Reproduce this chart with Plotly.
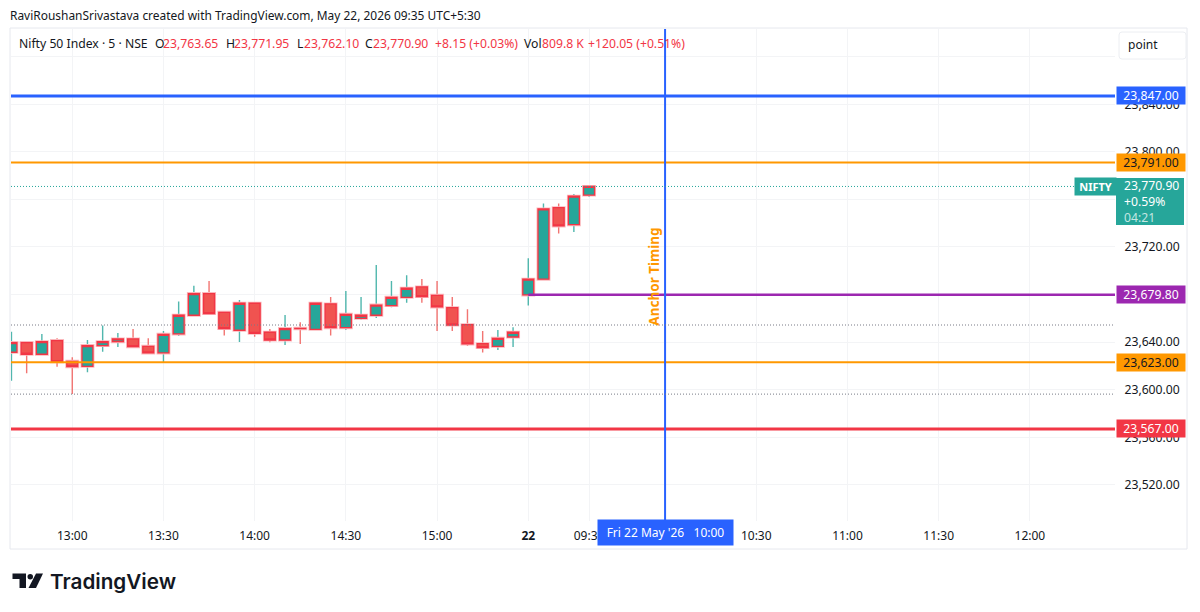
import plotly.graph_objects as go

W, H = 1200, 612
FONT = "Noto Sans"
TEXT = "#131722"
UP = "#26a69a"
DOWN = "#f05350"
BORDER = "#f23645"
HALO = "#fbb9bd"
BLUE = "#2962ff"
ORANGE = "#ff9800"
PURPLE = "#9c27b0"
GRID = "#f3f4f6"
FRAME = "#e6e8ee"

# 5 minute bars, counted from the 13:00 bar of the 21st
bar_index = list(range(-4, 35))
open_ = [23631.5, 23639.6, 23629.8, 23641.3, 23623.9, 23619.7, 23637.1, 23640.4, 23642.7, 23636.5,
         23630.9, 23646.9, 23662.6, 23680.8, 23665.1, 23650.0, 23672.7, 23648.3, 23641.8, 23651.6,
         23650.8, 23672.1, 23652.2, 23660.0, 23662.6, 23670.7, 23677.7, 23686.4, 23679.4, 23669.0,
         23654.7, 23638.7, 23636.5, 23644.3, 23679.7, 23692.9, 23753.1, 23738.8, 23763.65]
high = [23648.8, 23641.0, 23646.9, 23643.2, 23627.3, 23641.8, 23653.9, 23647.7, 23651.1, 23643.2,
        23649.4, 23674.1, 23687.5, 23691.4, 23666.2, 23675.5, 23673.8, 23651.1, 23662.9, 23656.7,
        23673.2, 23678.0, 23683.0, 23678.0, 23704.9, 23691.4, 23696.2, 23693.1, 23691.4, 23678.0,
        23667.6, 23649.4, 23650.2, 23652.5, 23710.5, 23756.5, 23756.5, 23764.6, 23771.95]
low = [23607.6, 23613.8, 23629.8, 23619.4, 23596.4, 23614.6, 23632.0, 23635.9, 23635.4, 23630.6,
       23622.8, 23645.2, 23662.6, 23664.0, 23645.5, 23640.1, 23644.6, 23639.9, 23637.6, 23638.5,
       23650.8, 23645.5, 23650.2, 23658.9, 23660.3, 23669.3, 23673.2, 23673.2, 23649.4, 23649.4,
       23636.8, 23631.2, 23633.4, 23635.9, 23670.7, 23692.9, 23731.3, 23732.7, 23762.10]
close = [23639.6, 23629.8, 23640.4, 23623.6, 23619.4, 23637.1, 23640.4, 23642.7, 23636.2, 23630.9,
         23646.6, 23662.6, 23680.8, 23664.0, 23651.4, 23672.7, 23647.4, 23641.8, 23651.4, 23651.3,
         23672.7, 23652.2, 23663.4, 23662.6, 23671.2, 23677.7, 23685.3, 23678.3, 23669.6, 23654.4,
         23638.5, 23635.4, 23643.2, 23648.3, 23692.9, 23752.0, 23737.7, 23762.7, 23770.90]

tick_bars = [0, 6, 12, 18, 24, 30, 34, 45, 51, 57, 63, 39]
tick_labels = ["13:00", "13:30", "14:00", "14:30", "15:00", "<b>22</b>", "09:35", "10:30", "11:00", "11:30", "12:00", "10:00"]

price_ticks = [23520, 23560, 23600, 23640, 23680, 23720, 23760, 23800, 23840, 23880]
price_labels = ["23,520.00", "23,560.00", "23,600.00", "23,640.00", "23,680.00", "23,720.00", "23,760.00",
                "23,800.00", "23,840.00", ""]

level_prices = [23847.00, 23791.00, 23623.00, 23567.00]
level_colors = [BLUE, ORANGE, ORANGE, "#f23645"]
level_widths = [3, 2, 2, 3]
level_text = ["#ffffff", TEXT, TEXT, "#ffffff"]

anchor_price = 23679.80
anchor_bar = 30
last_price = 23770.90
session_dots = [23654.4, 23596.3]
timing_bar = 39


def px(x):
    return x / W


def py(y):
    return 1 - y / H


def body_only(o, c):
    return [max(a, b) for a, b in zip(o, c)], [min(a, b) for a, b in zip(o, c)]


fig = go.Figure()

# wicks in the body colour
fig.add_trace(go.Candlestick(
    x=bar_index, open=open_, high=high, low=low, close=close,
    increasing=dict(line=dict(color=UP, width=1.4), fillcolor=UP),
    decreasing=dict(line=dict(color=DOWN, width=1.4), fillcolor=DOWN),
    opacity=0.8, hoverinfo="skip", showlegend=False,
))
# bodies again on top, pale halo then red outline on both directions
body_high, body_low = body_only(open_, close)
for edge, edge_width in [(HALO, 3), (BORDER, 1.3)]:
    fig.add_trace(go.Candlestick(
        x=bar_index, open=open_, high=body_high, low=body_low, close=close,
        increasing=dict(line=dict(color=edge, width=edge_width), fillcolor=UP),
        decreasing=dict(line=dict(color=edge, width=edge_width), fillcolor=DOWN),
        hoverinfo="skip", showlegend=False,
    ))

# price levels
for price, color, width in zip(level_prices, level_colors, level_widths):
    fig.add_shape(type="line", xref="paper", yref="y", x0=px(11), x1=px(1115), y0=price, y1=price,
                  line=dict(color=color, width=width))
fig.add_shape(type="line", xref="x", yref="y", x0=anchor_bar, x1=68.6, y0=anchor_price, y1=anchor_price,
              line=dict(color=PURPLE, width=2.5))
fig.add_shape(type="line", xref="x", yref="paper", x0=timing_bar, x1=timing_bar, y0=py(521), y1=py(29),
              line=dict(color=BLUE, width=2))
fig.add_shape(type="line", xref="paper", yref="y", x0=px(11), x1=px(1074), y0=last_price, y1=last_price,
              line=dict(color=UP, width=1, dash="1px 2px"))
for price in session_dots:
    fig.add_shape(type="line", xref="paper", yref="y", x0=px(11), x1=px(1114), y0=price, y1=price,
                  line=dict(color="#787b86", width=1, dash="1px 2px"))

# frame round the chart
fig.add_shape(type="rect", xref="paper", yref="paper", x0=px(10), x1=px(1187), y0=py(549), y1=py(28),
              line=dict(color=FRAME, width=1))

# point box
fig.add_shape(type="path", xref="paper", yref="paper",
              path=f"M {px(1122)} {py(32)} L {px(1183)} {py(32)} Q {px(1186)} {py(32)} {px(1186)} {py(35)} "
                   f"L {px(1186)} {py(56)} Q {px(1186)} {py(59)} {px(1183)} {py(59)} L {px(1122)} {py(59)} "
                   f"Q {px(1119)} {py(59)} {px(1119)} {py(56)} L {px(1119)} {py(35)} Q {px(1119)} {py(32)} {px(1122)} {py(32)} Z",
              line=dict(color="#eceef2", width=1), fillcolor="#ffffff")

# last price tag box
fig.add_shape(type="rect", xref="paper", yref="paper", x0=px(1116), x1=px(1184), y0=py(225), y1=py(178),
              line_width=0, fillcolor=UP)

# logo mark
fig.add_shape(type="path", xref="paper", yref="paper", fillcolor="#131722", line_width=0,
              path=f"M {px(12.5)} {py(573.5)} L {px(26)} {py(573.5)} L {px(26)} {py(588)} L {px(19.5)} {py(588)} "
                   f"L {px(19.5)} {py(579)} L {px(12.5)} {py(579)} Z")
fig.add_shape(type="circle", xref="paper", yref="paper", fillcolor="#131722", line_width=0,
              x0=px(27.5), x1=px(33), y0=py(579.5), y1=py(574))
fig.add_shape(type="path", xref="paper", yref="paper", fillcolor="#131722", line_width=0,
              path=f"M {px(36)} {py(573.5)} L {px(43)} {py(573.5)} L {px(36)} {py(588)} L {px(28.5)} {py(588)} Z")


def note(text, x, y, color=TEXT, size=12, **kw):
    fig.add_annotation(text=text, x=px(x), y=py(y), xref="paper", yref="paper", showarrow=False,
                       xanchor=kw.pop("xanchor", "left"), yanchor=kw.pop("yanchor", "middle"),
                       font=dict(family=kw.pop("family", FONT), size=size, color=color, **kw.pop("font", {})),
                       **kw)


note("RaviRoushanSrivastava created with TradingView.com, May 22, 2026 09:35 UTC+5:30", 8, 15, size=11.95)
note("TradingView", 48, 581, size=20.7, family="Inter", font=dict(weight=600))
note("point", 1126, 45, size=12)

# legend row
legend_text = ["Nifty 50 Index · 5 · NSE", "O", "23,763.65", "H", "23,771.95", "L", "23,762.10", "C", "23,770.90",
               "+8.15 (+0.03%)", "Vol", "809.8 K", "+120.05 (+0.51%)"]
legend_x = [17, 153, 161, 224, 232, 295, 302, 363, 371, 433, 522, 540, 586]
legend_red = [False, False, True, False, True, False, True, False, True, True, False, True, True]
for text, x, red in zip(legend_text, legend_x, legend_red):
    note(text, x, 44, color=BORDER if red else TEXT, size=12.2)

# price tags on the scale
for price, color, ink in zip(level_prices, level_colors, level_text):
    fig.add_annotation(text=f"{price:,.2f}", xref="paper", yref="y", x=px(1116), y=price, xanchor="left",
                       showarrow=False, bgcolor=color, width=68, height=17, borderpad=0,
                       font=dict(family=FONT, size=12.2, color=ink))
fig.add_annotation(text=f"{anchor_price:,.2f}", xref="paper", yref="y", x=px(1116), y=anchor_price, xanchor="left",
                   showarrow=False, bgcolor=PURPLE, width=68, height=17, borderpad=0,
                   font=dict(family=FONT, size=12.2, color="#ffffff"))
note(f"{last_price:,.2f}<br>+0.59%<br><span style='color:#c4e6e2'>04:21</span>", 1122, 202,
     color="#ffffff", size=12.2, align="left")
fig.add_annotation(text="<b>NIFTY</b>", xref="paper", yref="y", x=px(1074), y=last_price, xanchor="left",
                   showarrow=False, bgcolor=UP, width=41, height=17, borderpad=0,
                   font=dict(family=FONT, size=11, color="#ffffff"))

fig.add_annotation(text="<b>Anchor Timing</b>", xref="x", yref="y", x=38.25, y=23694.8, textangle=-90,
                   showarrow=False, font=dict(family=FONT, size=13.5, color=ORANGE))
fig.add_annotation(text="Fri 22 May '26 &nbsp; 10:00", xref="x", yref="paper", x=timing_bar, y=py(532.5),
                   yanchor="middle", showarrow=False, bgcolor=BLUE, width=135, height=25, borderpad=0,
                   font=dict(family=FONT, size=12, color="#ffffff"))

fig.update_layout(
    width=W, height=H, autosize=False,
    margin=dict(l=0, r=0, t=0, b=0, pad=0),
    paper_bgcolor="#ffffff", plot_bgcolor="#ffffff",
    showlegend=False, boxmode="overlay", boxgap=0.28, boxgroupgap=0,
    xaxis=dict(domain=[px(11), px(1115)], range=[-4.03, 68.6], rangeslider=dict(visible=False),
               tickmode="array", tickvals=tick_bars, ticktext=tick_labels, tickangle=0,
               showgrid=True, gridcolor=GRID, gridwidth=1, zeroline=False, showline=False,
               ticks="outside", ticklen=4, tickcolor="rgba(0,0,0,0)",
               tickfont=dict(family=FONT, size=12, color=TEXT)),
    yaxis=dict(domain=[py(521), py(29)], range=[23489.6, 23903.3], side="right",
               tickmode="array", tickvals=price_ticks, ticktext=price_labels,
               showgrid=True, gridcolor=GRID, gridwidth=1, zeroline=False, showline=False,
               ticks="outside", ticklen=6, tickcolor="rgba(0,0,0,0)",
               tickfont=dict(family=FONT, size=12.2, color=TEXT)),
)

fig.write_html("out.html", config={"displayModeBar": False}, post_script="document.body.style.margin='0';")
